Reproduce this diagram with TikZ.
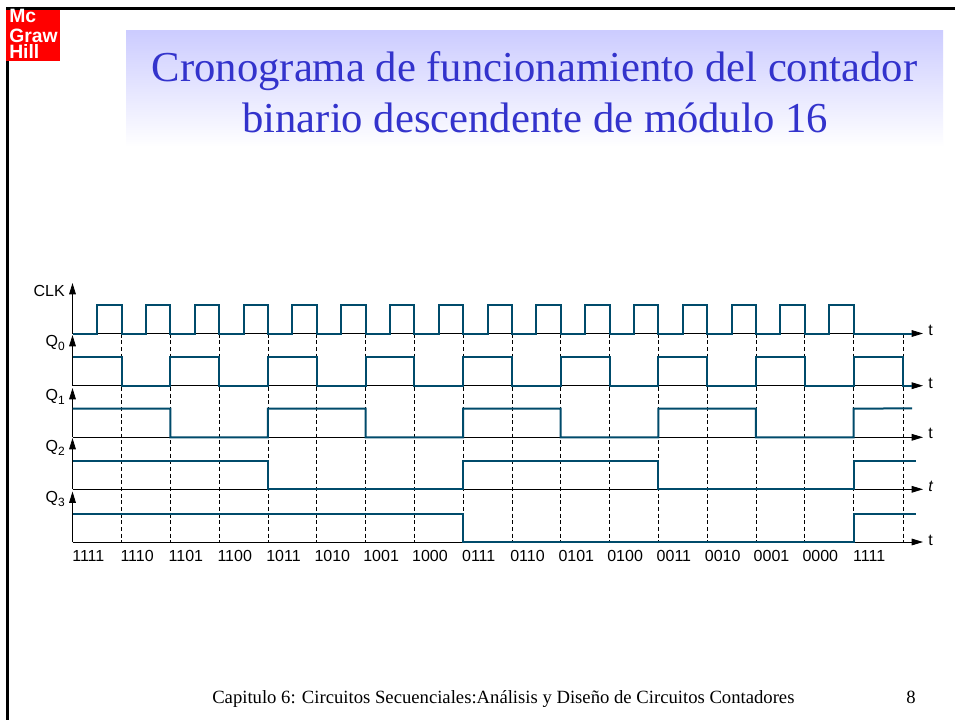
\documentclass[tikz,border=0pt]{standalone}
\usepackage{fontspec}
\setmainfont{Liberation Serif}
\newfontfamily\arial{Liberation Sans}
\usetikzlibrary{arrows.meta}
\definecolor{wavec}{HTML}{004B6B}
\definecolor{titlec}{HTML}{3333CC}
\definecolor{boxc}{HTML}{CCCCFF}
\definecolor{logoc}{HTML}{FF0000}
\newcommand{\T}[1]{{72.7+48.8*(#1)}}
\newcommand{\sigq}[1]{Q\raisebox{-3pt}{\fontsize{9}{10}\selectfont #1}}
\tikzset{
  x=0.75pt,y=-0.75pt,
  wave/.style={draw=wavec,line width=1.5pt,line join=miter},
  axisline/.style={draw=black,line width=0.65pt,-{Triangle[length=8.5pt,width=5pt]}},
  guide/.style={draw=black,line width=0.6pt,dash pattern=on 3pt off 2pt},
  siglabel/.style={font=\arial\fontsize{12}{14}\selectfont,text=black,inner sep=0pt,anchor=base east},
  tlabel/.style={font=\arial\fontsize{12}{14}\selectfont,text=black,inner sep=0pt,anchor=base west},
  codelabel/.style={font=\arial\fontsize{12}{14}\selectfont,text=black,inner sep=0pt,anchor=base},
  titletext/.style={font=\fontsize{32}{36}\selectfont,text=titlec,inner sep=0pt,anchor=base},
  foottext/.style={font=\fontsize{14}{16}\selectfont,text=black,inner sep=0pt,anchor=base west},
  logotext/.style={font=\arial\bfseries\fontsize{14.5}{12}\selectfont,text=white,inner sep=0pt,anchor=north west,align=left},
}
\begin{document}
\begin{tikzpicture}
\useasboundingbox (0,0) rectangle (955,720);
% slide frame and logo
\fill[white] (0,0) rectangle (955,720);
\fill[black] (6,7.3) rectangle (955,10);
\fill[black] (6,7.3) rectangle (9,720);
\fill[logoc] (6,7.3) rectangle (60,61);
\fill[black] (6,7.3) rectangle (60,10);
\node[logotext] (logo) at (9,9) {Mc\\[3pt]Graw\\Hill};
% title
\shade[top color=boxc,bottom color=white] (126,31) rectangle (943,147);
\node[titletext] (titlea) at (534.5,82) {Cronograma de funcionamiento del contador};
\node[titletext] (titleb) at (535,133) {binario descendente de módulo 16};
% guides
\foreach \i in {1,...,16} \draw[guide] (\T{\i},333.5) -- (\T{\i},542);
\draw[guide] (903.5,333.5) -- (903.5,542);
% axes
\foreach \n/\top/\base/\hx in {clk/283/333.5/923,qa/335/385.7/923,qb/388/437.3/923,qc/438/489.3/923,qd/491.5/542/923}{
  \coordinate (\n o) at (72.5,\base);
  \coordinate (\n v) at (72.5,\top);
  \coordinate (\n h) at (\hx,\base);
  \draw[axisline] (\n o) -- (\n v);
  \draw[axisline] (\n o) -- (\n h);
}
% waves
\draw[wave] (72.5,333.5) foreach \i in {0,...,15} { -| (\T{\i+.5},304.7) -| (\T{\i+1},333.5) } -- (912,333.5);
\draw[wave] (72.5,356.7) foreach \i in {1,3,...,15} { -| (\T{\i},385.7) -| (\T{\i+1},356.7) } -| (903,385.7) -- (912,385.7);
\draw[wave] (72.5,408.7) foreach \i in {2,6,10,14} { -| (\T{\i},437.3) -| (\T{\i+2},408.7) } -- (912,408.3);
\draw[wave] (72.5,461) foreach \i in {4,12} { -| (\T{\i},489.3) -| (\T{\i+4},461) } -- (916,461);
\draw[wave] (72.5,514) -| (\T{8},542) -| (\T{16},514) -- (916,514);
% signal labels
\node[siglabel] (lclk) at (65,296) {CLK};
\node[siglabel] (lq0) at (65,346.5) {\sigq{0}};
\node[siglabel] (lq1) at (65,400) {\sigq{1}};
\node[siglabel] (lq2) at (65,451.5) {\sigq{2}};
\node[siglabel] (lq3) at (65,502.5) {\sigq{3}};
\node[tlabel] (t0) at (928,335) {t};
\node[tlabel] (t1) at (928,388) {t};
\node[tlabel] (t2) at (928,438) {t};
\node[tlabel] (t3) at (928,491) {\itshape t};
\node[tlabel] (t4) at (928,545) {t};
% state codes
\foreach \i/\c in {0/1111,1/1110,2/1101,3/1100,4/1011,5/1010,6/1001,7/1000,8/0111,9/0110,10/0101,11/0100,12/0011,13/0010,14/0001,15/0000,16/1111}{
  \node[codelabel] (code\i) at (\T{\i+.32},561.5) {\c};
}
% footer
\node[foottext] (foot) at (212,703) {Capitulo 6: Circuitos Secuenciales:Análisis y Diseño de Circuitos Contadores};
\node[foottext] (page) at (906,703) {8};
\end{tikzpicture}
\end{document}
